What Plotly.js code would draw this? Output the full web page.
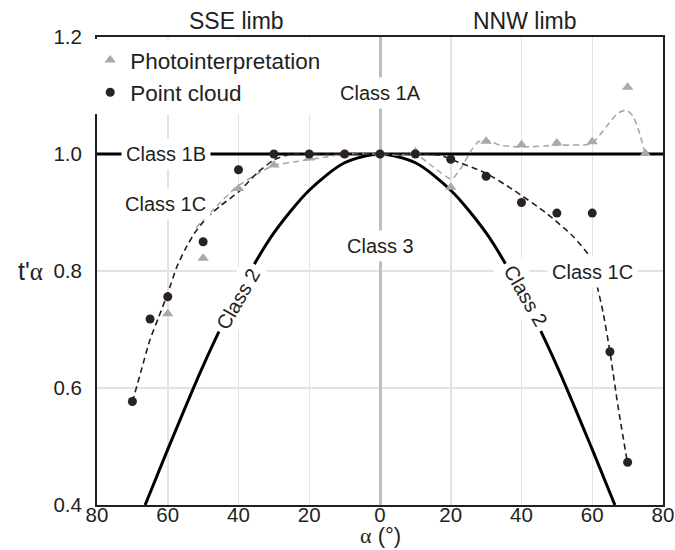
<!DOCTYPE html>
<html>
<head>
<meta charset="utf-8">
<script src="https://cdn.plot.ly/plotly-3.0.1.min.js"></script>
<style>html,body{margin:0;padding:0;background:#fff;}#chart{width:675px;height:550px;}</style>
</head>
<body>
<div id="chart"></div>
<script>
// ---- data ----
const xTickVals = [-80, -60, -40, -20, 0, 20, 40, 60, 80];
const xTickText = ['80', '60', '40', '20', '0', '20', '40', '60', '80'];
const yTickVals = [0.4, 0.6, 0.8, 1.0, 1.2];

// observations
const photoX = [-60, -50, -40, -30, -20, -10, 0, 10, 20, 30, 40, 50, 60, 70, 75];
const photoY = [0.727, 0.822, 0.941, 0.981, 0.993, 1.0, 1.0, 1.004, 0.943, 1.022, 1.016, 1.019, 1.021, 1.114, 1.001];
const cloudX = [-70, -65, -60, -50, -40, -30, -20, -10, 0, 10, 20, 30, 40, 50, 60, 65, 70];
const cloudY = [0.577, 0.718, 0.756, 0.85, 0.973, 1.0, 1.0, 1.0, 1.0, 1.0, 0.991, 0.962, 0.917, 0.899, 0.899, 0.662, 0.473];

// fitted dashed curves
const cloudFitX = [-70, -67.5, -65, -62.5, -60, -57.5, -55, -52.5, -50, -47.5, -45, -40, -35, -30, -25, -20, -10, 0, 10, 17, 20, 30, 37.6, 47, 54.6, 59.3, 61.2, 63.1, 65, 67.3, 69.9];
const cloudFitY = [0.576, 0.63, 0.683, 0.722, 0.762, 0.806, 0.838, 0.864, 0.884, 0.899, 0.912, 0.935, 0.966, 0.99, 1.0, 1.0, 1.0, 1.0, 1.0, 0.998, 0.991, 0.967, 0.939, 0.899, 0.859, 0.824, 0.779, 0.728, 0.662, 0.568, 0.474];
const photoFitX = [-52, -50.8, -45, -40.5, -35, -30.2, -22.6, -15, -10, 0, 5.6, 10, 15, 20.2, 22.6, 25.9, 27.8, 30.1, 33.9, 40, 50, 59.8, 64, 67.3, 69.7, 71.6, 73.4, 74.9];
const photoFitY = [0.874, 0.882, 0.918, 0.944, 0.965, 0.98, 0.988, 0.995, 1.0, 1.0, 0.998, 1.0, 0.978, 0.957, 0.973, 1.007, 1.021, 1.024, 1.015, 1.012, 1.015, 1.018, 1.047, 1.07, 1.075, 1.064, 1.035, 1.001];

// class boundaries
const class1BX = [-80, 80];
const class1BY = [1.0, 1.0];
const class2X = [-66.4, -60, -50, -40, -30, -20, -10, 0, 10, 20, 30, 40, 50, 60, 66.4];
const class2Y = [0.4, 0.495, 0.638, 0.763, 0.865, 0.938, 0.985, 1.0, 0.985, 0.938, 0.865, 0.763, 0.638, 0.495, 0.4];

// labels
const classLabels = ['Class 1A', 'Class 1B', 'Class 1C', 'Class 3', 'Class 1C', 'Class 2', 'Class 2'];
const classLabelX = [0, -60.5, -60.7, 0, 60, -40.1, 41.2];
const classLabelY = [1.105, 1.0, 0.915, 0.843, 0.798, 0.752, 0.757];
const classLabelAngle = [0, 0, 0, 0, 0, -60, 60];
const limbLabels = ['SSE limb', 'NNW limb'];
const limbX = [-40.5, 41];

// ---- styling ----
const INK = '#231f20';
const GREY = '#a7a9ac';
const FONT = 'Liberation Sans, Arial, Helvetica, sans-serif';
const ALPHA = '<span style="font-family:Liberation Serif, serif">α</span>';

const traces = [
  {x: class1BX, y: class1BY, mode: 'lines', line: {color: '#000', width: 3}, showlegend: false, hoverinfo: 'skip'},
  {x: class2X, y: class2Y, mode: 'lines', line: {color: '#000', width: 3, shape: 'spline', smoothing: 0.8}, showlegend: false, hoverinfo: 'skip'},
  {x: photoFitX, y: photoFitY, mode: 'lines', line: {color: GREY, width: 1.6, dash: '6px,4px', shape: 'spline', smoothing: 0.6}, showlegend: false, hoverinfo: 'skip'},
  {x: cloudFitX, y: cloudFitY, mode: 'lines', line: {color: INK, width: 1.6, dash: '6px,4px', shape: 'spline', smoothing: 0.6}, showlegend: false, hoverinfo: 'skip'},
  {x: photoX, y: photoY, mode: 'markers', name: 'Photointerpretation',
   marker: {symbol: 'triangle-up', size: 10, color: GREY}},
  {x: cloudX, y: cloudY, mode: 'markers', name: 'Point cloud',
   marker: {symbol: 'circle', size: 9, color: '#2b2121'}}
];

const annotations = [];
classLabels.forEach((t, i) => {
  annotations.push({
    x: classLabelX[i], y: classLabelY[i], xref: 'x', yref: 'y', text: t, showarrow: false,
    textangle: classLabelAngle[i], bgcolor: '#ffffff', borderpad: 4,
    font: {family: FONT, size: 20, color: INK}
  });
});
limbLabels.forEach((t, i) => {
  annotations.push({
    x: limbX[i], y: 1, xref: 'x', yref: 'paper', text: t, showarrow: false,
    yanchor: 'bottom', yshift: 1, font: {family: FONT, size: 23, color: INK}
  });
});
// y-axis title (horizontal)
annotations.push({
  x: 0, y: 0.8, xref: 'paper', yref: 'y', xanchor: 'right', xshift: -52, showarrow: false,
  text: "t'" + ALPHA, font: {family: FONT, size: 25, color: INK}
});
// x-axis title
annotations.push({
  x: 0.5, y: 0, xref: 'paper', yref: 'paper', yanchor: 'middle', yshift: -30, showarrow: false,
  text: ALPHA + ' (°)', font: {family: FONT, size: 22, color: INK}
});

const layout = {
  width: 675, height: 550,
  margin: {l: 97, r: 12, t: 37, b: 45},
  paper_bgcolor: '#fff', plot_bgcolor: '#fff',
  font: {family: FONT, color: INK, size: 20},
  showlegend: true,
  legend: {x: -0.012, y: 0.996, xanchor: 'left', yanchor: 'top', bgcolor: '#ffffff',
           font: {family: FONT, size: 22.5, color: INK}, itemwidth: 30, tracegroupgap: 0},
  xaxis: {
    range: [-80, 80], tickvals: xTickVals, ticktext: xTickText, ticks: '',
    showgrid: true, gridcolor: '#e3e3e3', gridwidth: 1.5,
    zeroline: true, zerolinecolor: '#bcbec0', zerolinewidth: 3,
    showline: true, linecolor: INK, linewidth: 2, mirror: true,
    tickfont: {family: FONT, size: 20.5, color: INK}, ticklabelstandoff: -10,
    fixedrange: true
  },
  yaxis: {
    range: [0.4, 1.2], tickvals: yTickVals, tickformat: '.1f', ticks: '',
    showgrid: true, gridcolor: '#e3e3e3', gridwidth: 1.5, zeroline: false,
    showline: true, linecolor: INK, linewidth: 2, mirror: true,
    tickfont: {family: FONT, size: 20.5, color: INK}, ticklabelstandoff: 9,
    fixedrange: true
  },
  annotations: annotations
};

Plotly.newPlot('chart', traces, layout, {displayModeBar: false, staticPlot: true});
</script>
</body>
</html>
